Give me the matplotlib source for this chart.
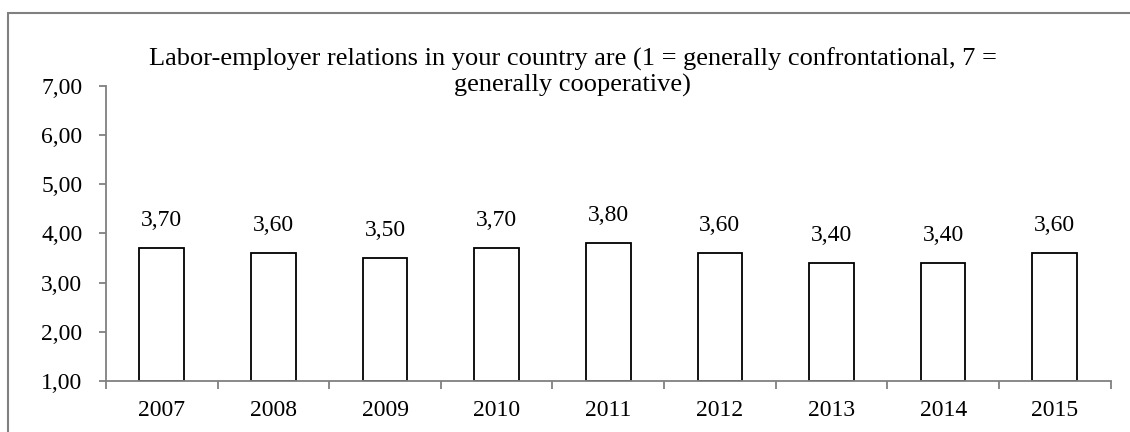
import matplotlib
matplotlib.use("Agg")
import matplotlib.pyplot as plt
from matplotlib.patches import Rectangle

years = ["2007", "2008", "2009", "2010", "2011", "2012", "2013", "2014", "2015"]
scores = [3.70, 3.60, 3.50, 3.70, 3.80, 3.60, 3.40, 3.40, 3.60]
title = ("Labor-employer relations in your country are (1 = generally confrontational, 7 =\n"
         "generally cooperative)")

plt.rcParams["font.family"] = ["Liberation Serif", "DejaVu Serif"]


def comma(v: float) -> str:
    return f"{v:.2f}".replace(".", ",")


fig = plt.figure(figsize=(11.3, 4.32), dpi=100)
ax = fig.add_axes([0.0938, 0.118, 0.889, 0.683])

base = 1.0
xs = list(range(len(years)))
ax.bar(xs, [s - base for s in scores], bottom=base, width=0.4,
       color="white", edgecolor="black", linewidth=1.3)
for x, s in zip(xs, scores):
    ax.text(x, s + 0.45, comma(s), ha="center", va="baseline", fontsize=17)

ax.set_xlim(-0.5, len(years) - 0.5)
ax.set_ylim(1, 7)
ax.set_yticks(range(1, 8))
ax.set_yticklabels([comma(v) for v in range(1, 8)], fontsize=17)
ax.set_xticks(xs)
ax.set_xticklabels(years, fontsize=17)
ax.set_xticks([x - 0.5 for x in range(len(years) + 1)], minor=True)
ax.tick_params(axis="x", which="major", length=0, pad=14)
ax.tick_params(axis="x", which="minor", length=6, color="#808080", width=1.3)
ax.tick_params(axis="y", length=5, color="#808080", width=1.3, pad=12)
for side in ("top", "right"):
    ax.spines[side].set_visible(False)
for side in ("left", "bottom"):
    ax.spines[side].set_color("#808080")
    ax.spines[side].set_linewidth(1.3)

fig.text(0.507, 0.832, title, ha="center", va="center", fontsize=19, linespacing=1.15)

# grey frame around the chart area (right and bottom edges fall off the image)
fig.patches.append(Rectangle((8 / 1130, -0.05), 1.05, 1.05 - 13 / 432,
                             transform=fig.transFigure, fill=False,
                             edgecolor="#808080", linewidth=1.5))

fig.savefig("out.png", dpi=100)
